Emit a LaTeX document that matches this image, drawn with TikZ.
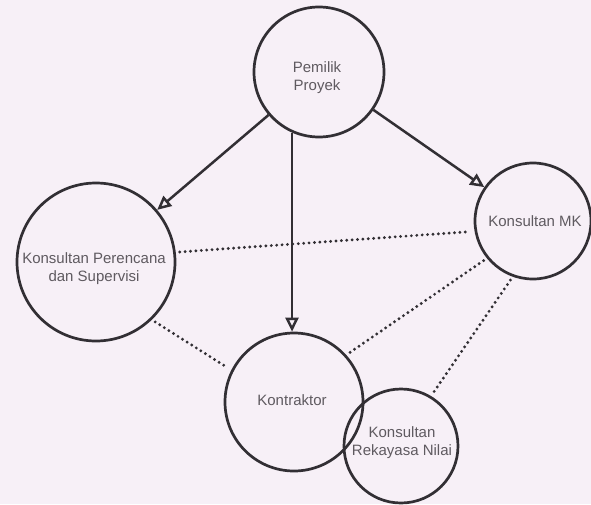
\documentclass[tikz,border=0pt]{standalone}
\usepackage{fontspec}
\setmainfont{Liberation Sans}
\usetikzlibrary{arrows.meta}
\definecolor{bgc}{RGB}{247,240,247}
\definecolor{linec}{RGB}{50,47,52}
\definecolor{txtc}{RGB}{95,90,96}
\tikzset{
  circ/.style={circle, draw=linec, line width=2.7pt, inner sep=0pt, minimum size=#1},
  lbl/.style={text=txtc, align=center, font=\fontsize{15}{18}\selectfont, inner sep=0pt},
  arr/.style={draw=linec, line width=2.5pt, -{Triangle[open, length=14pt, width=13pt]}},
  dots/.style={draw=linec, line width=3.2pt, line cap=round, dash pattern=on 0pt off 5.4pt, shorten <=4pt, shorten >=4pt}
}
\begin{document}
\begin{tikzpicture}[x=1pt,y=-1pt]
\fill[bgc] (0,0) rectangle (591,504);
\useasboundingbox (0,0) rectangle (591,504);
\node[circ=130pt] (pemilik) at (319,72) {};
\node[circ=158pt] (perencana) at (96,262) {};
\node[circ=116pt] (mk) at (533,221) {};
\node[circ=138pt] (kontraktor) at (294,402) {};
\node[circ=114pt] (rekayasa) at (401,446) {};
\node[lbl] (pemilikT) at (317,78) {Pemilik\\Proyek};
\node[lbl] (perencanaT) at (94,269) {Konsultan Perencana\\dan Supervisi};
\node[lbl] (mkT) at (535,221) {Konsultan MK};
\node[lbl] (kontraktorT) at (292,400) {Kontraktor};
\node[lbl] (rekayasaT) at (402,443) {Konsultan\\Rekayasa Nilai};
\draw[arr] (pemilik) -- (perencana);
\draw[arr] (pemilik) -- (mk);
\draw[arr] (pemilik.246) -- (pemilik.246 |- kontraktor.north);
\draw[dots] (perencana.7) -- (mk.190);
\draw[dots] (perencana.314) -- (kontraktor.153);
\draw[dots] (mk.219) -- (kontraktor.42);
\draw[dots] (mk.250) -- (rekayasa.59);
\end{tikzpicture}
\end{document}
